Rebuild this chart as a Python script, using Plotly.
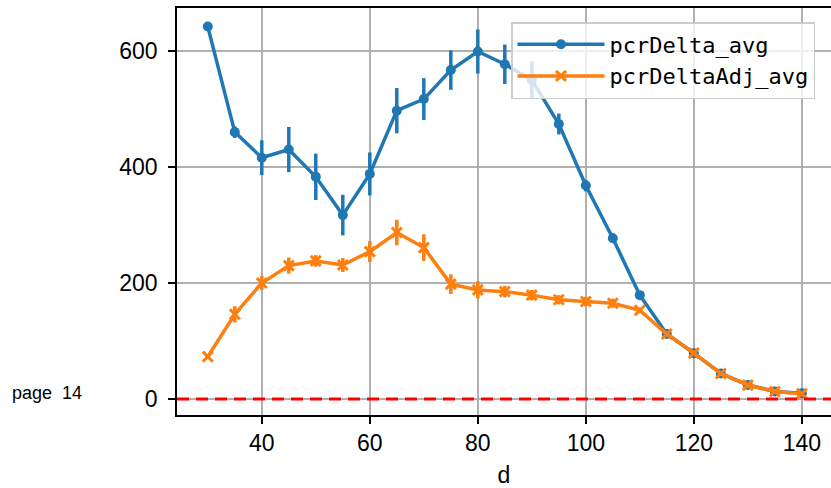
import plotly.graph_objects as go

d = [30, 35, 40, 45, 50, 55, 60, 65, 70, 75, 80, 85, 90, 95, 100, 105, 110, 115, 120, 125, 130, 135, 140]
pcr_delta_avg = [642, 460, 416, 430, 383, 317, 388, 497, 517, 567, 599, 577, 550, 474, 368, 277, 179, 112, 79, 44, 24, 13, 10]
pcr_delta_err = [0, 10, 30, 39, 40, 35, 37, 39, 36, 34, 38, 34, 32, 18, 10, 8, 5, 4, 3, 3, 2, 2, 2]
pcr_delta_adj_avg = [73, 146, 200, 230, 238, 231, 254, 287, 261, 198, 188, 185, 179, 171, 168, 165, 153, 112, 79, 44, 24, 13, 9]
pcr_delta_adj_err = [2, 14, 12, 14, 10, 12, 18, 22, 23, 17, 15, 10, 9, 8, 8, 8, 5, 4, 3, 3, 2, 2, 2]
x_ticks = [40, 60, 80, 100, 120, 140]
y_ticks = [0, 200, 400, 600]

BLUE = "#1f77b4"
ORANGE = "#ff7f0e"

fig = go.Figure()
fig.add_trace(go.Scatter(
    x=d, y=pcr_delta_avg, name="pcrDelta_avg", mode="lines+markers",
    line=dict(color=BLUE, width=3.5),
    marker=dict(symbol="circle", size=10, color=BLUE),
    error_y=dict(type="data", array=pcr_delta_err, color=BLUE, thickness=3.5, width=0),
))
fig.add_trace(go.Scatter(
    x=d, y=pcr_delta_adj_avg, name="pcrDeltaAdj_avg", mode="lines+markers",
    line=dict(color=ORANGE, width=3.5),
    marker=dict(symbol="x-thin", size=10, color=ORANGE, line=dict(color=ORANGE, width=3)),
    error_y=dict(type="data", array=pcr_delta_adj_err, color=ORANGE, thickness=3.5, width=0),
))

fig.add_shape(type="line", xref="paper", x0=0, x1=1, yref="y", y0=0, y1=0,
              line=dict(color="red", width=3, dash="12px,7px"))

fig.add_annotation(text="page&nbsp;&nbsp;14", xref="paper", yref="paper",
                   x=(10 - 177) / 654, y=(415 - 393) / 407, xanchor="left", yanchor="middle",
                   showarrow=False, font=dict(family="Liberation Sans", size=18, color="black"))

axis_common = dict(
    showgrid=True, gridcolor="#b0b0b0", gridwidth=1.5,
    showline=True, linecolor="black", linewidth=1.5, mirror=True,
    ticks="outside", ticklen=7, tickwidth=1.5, tickcolor="black",
    tickfont=dict(family="Liberation Sans", size=23, color="black"),
    zeroline=False, automargin=False,
)

fig.update_layout(
    width=831, height=488,
    margin=dict(l=177, r=0, t=8, b=73, autoexpand=False),
    paper_bgcolor="white", plot_bgcolor="white",
    xaxis=dict(range=[24.3, 145.4], tickvals=x_ticks,
               title=dict(text="d", font=dict(family="Liberation Sans", size=23, color="black"), standoff=13),
               **axis_common),
    yaxis=dict(range=[-27.6, 674], tickvals=y_ticks, ticklabelstandoff=6, **axis_common),
    legend=dict(x=(511 - 177) / 654, y=(415 - 22) / 407, xanchor="left", yanchor="top",
                bgcolor="rgba(255,255,255,0.8)", bordercolor="#cccccc", borderwidth=1.5,
                font=dict(family="DejaVu Sans Mono", size=22, color="black"),
                itemwidth=87, tracegroupgap=0),
    showlegend=True,
)

fig.write_html("out.html", config={"displayModeBar": False},
               post_script="document.body.style.margin='0';document.body.style.overflow='hidden';")
